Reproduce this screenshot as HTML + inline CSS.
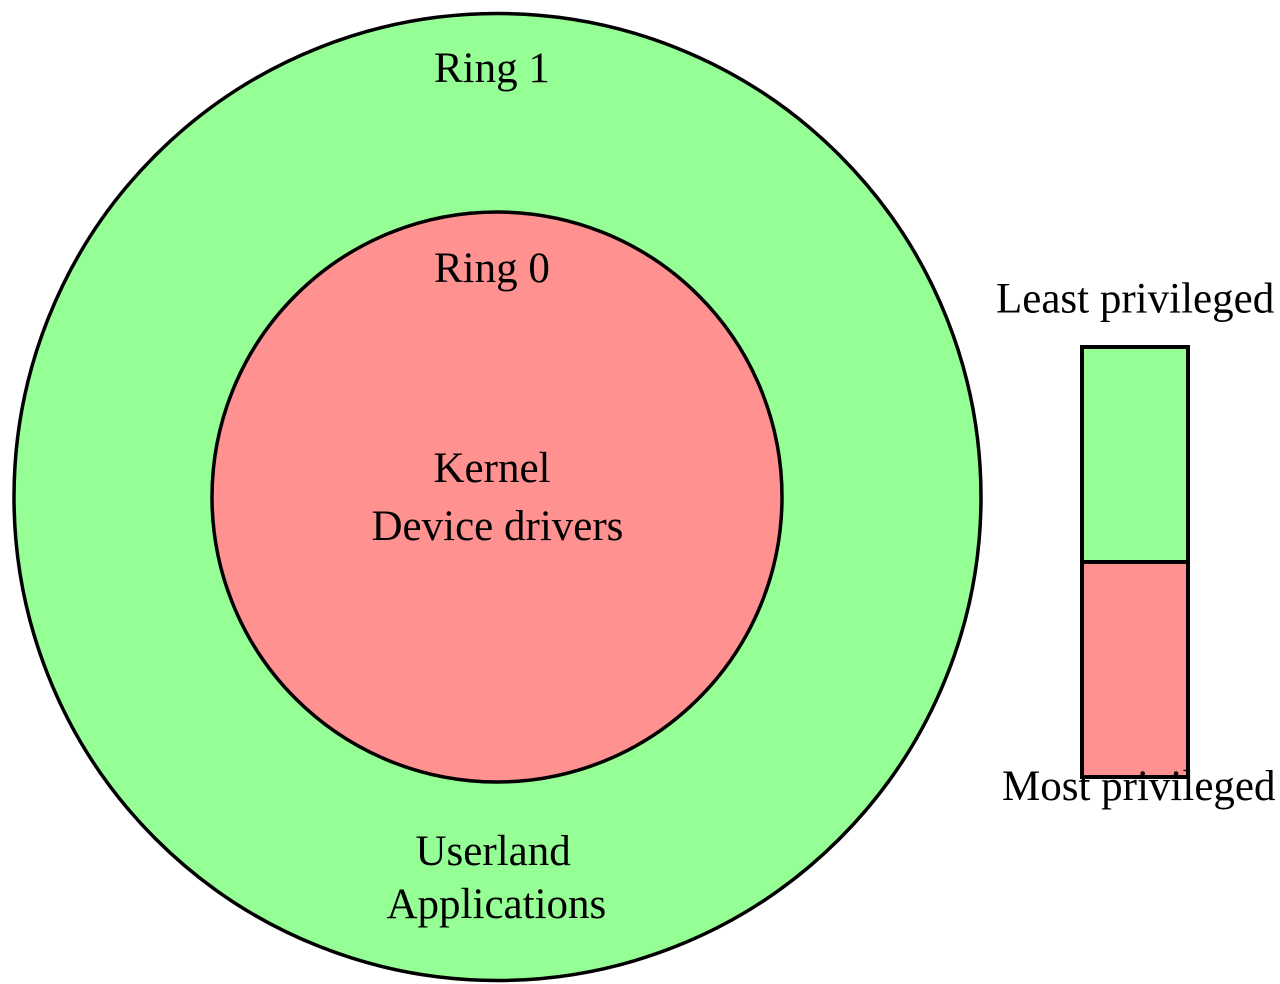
<!DOCTYPE html>
<html>
<head>
<meta charset="utf-8">
<style>
html,body{margin:0;padding:0;background:#fff;}
svg{display:block;}
text{font-family:"Liberation Serif","Times New Roman",serif;font-size:43px;fill:#000;}
</style>
</head>
<body>
<svg width="1280" height="984" viewBox="0 0 1280 984" xmlns="http://www.w3.org/2000/svg">
  <circle cx="497.5" cy="497" r="483.5" fill="#95fe95" stroke="#000" stroke-width="3.5"/>
  <circle cx="497" cy="497" r="285" fill="#ff9191" stroke="#000" stroke-width="3.5"/>
  <rect x="1082" y="347" width="106" height="215" fill="#95fe95" stroke="#000" stroke-width="4"/>
  <rect x="1082" y="562" width="106" height="215" fill="#ff9191" stroke="#000" stroke-width="4"/>
  <text x="434" y="82">Ring 1</text>
  <text x="434" y="282">Ring 0</text>
  <text x="433.5" y="482">Kernel</text>
  <text x="371.5" y="540">Device drivers</text>
  <text x="415.5" y="865">Userland</text>
  <text x="386.5" y="918">Applications</text>
  <text x="996" y="312.5">Least privileged</text>
  <text x="1002" y="800">Most privileged</text>
</svg>
</body>
</html>
